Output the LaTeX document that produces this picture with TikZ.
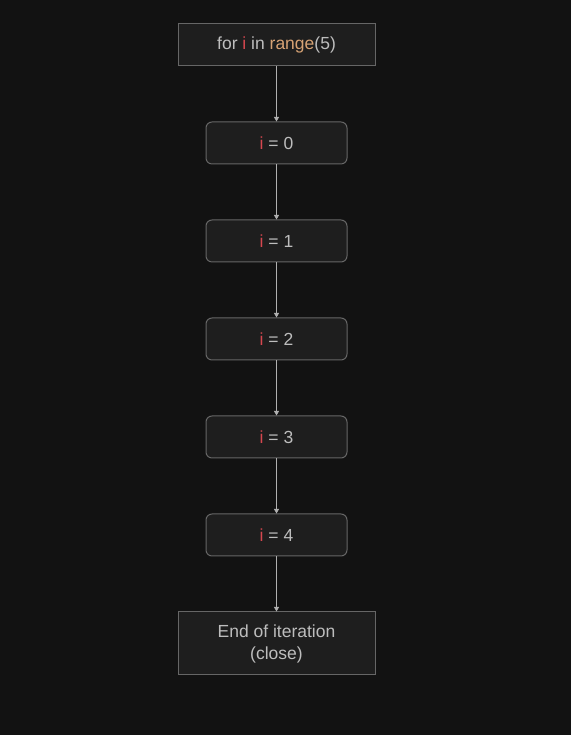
\documentclass[tikz,border=0pt]{standalone}
\usepackage{fontspec}
\setmainfont{Liberation Sans}
\usetikzlibrary{arrows.meta}
\definecolor{bgcol}{HTML}{121212}
\definecolor{boxfill}{HTML}{1E1E1E}
\definecolor{boxline}{HTML}{666666}
\definecolor{txtcol}{HTML}{BDBDBD}
\definecolor{varcol}{HTML}{D6474F}
\definecolor{funcol}{HTML}{D6A274}
\definecolor{arrcol}{HTML}{B0B0B0}
\tikzset{
	loopbox/.style={draw=boxline, line width=1pt, fill=boxfill, text=txtcol, minimum width=197pt, minimum height=42pt, inner sep=0pt, font=\fontsize{17.5}{22}\selectfont, align=center},
	iterbox/.style={draw=boxline, line width=1pt, fill=boxfill, text=txtcol, rounded corners=6pt, minimum width=141pt, minimum height=42pt, inner sep=0pt, font=\fontsize{17.5}{22}\selectfont},
	flow/.style={draw=arrcol, line width=0.8pt, -{Triangle[width=5pt,length=4.5pt]}}
}
\newcommand{\ivar}{\textcolor{varcol}{i}}
\begin{document}
\begin{tikzpicture}[x=1pt, y=1pt]
	% фон
	\fill [bgcol] ( 0, 0 ) rectangle ( 571, 735 );
	\useasboundingbox ( 0, 0 ) rectangle ( 571, 735 );

	% заголовок цикла
	\node [loopbox] (head) at ( 276.5, 690 ) {for \ivar{} in \textcolor{funcol}{range}(5)};

	% итерации
	\node [iterbox] (it0) at ( 276.5, 592 ) {\ivar{} = 0};
	\node [iterbox] (it1) at ( 276.5, 494 ) {\ivar{} = 1};
	\node [iterbox] (it2) at ( 276.5, 396 ) {\ivar{} = 2};
	\node [iterbox] (it3) at ( 276.5, 298 ) {\ivar{} = 3};
	\node [iterbox] (it4) at ( 276.5, 200 ) {\ivar{} = 4};

	% конец
	\node [loopbox, minimum height=63pt] (done) at ( 276.5, 91.5 ) {End of iteration\\(close)};

	% стрелки
	\draw [flow] (head) -- (it0);
	\draw [flow] (it0) -- (it1);
	\draw [flow] (it1) -- (it2);
	\draw [flow] (it2) -- (it3);
	\draw [flow] (it3) -- (it4);
	\draw [flow] (it4) -- (done);
\end{tikzpicture}
\end{document}
